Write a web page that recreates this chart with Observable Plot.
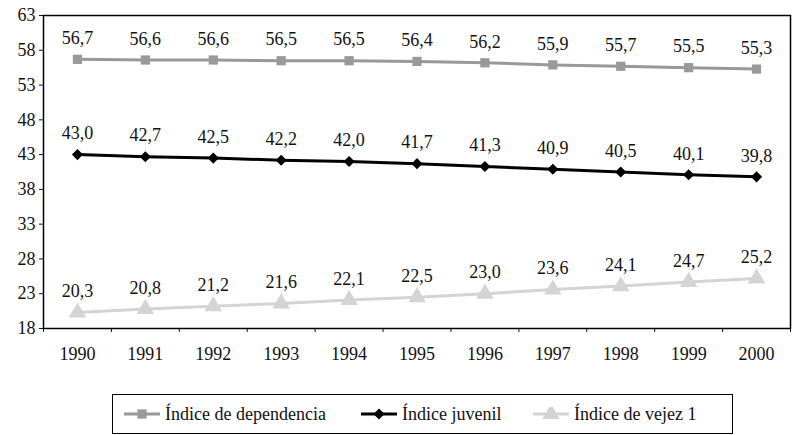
<!DOCTYPE html>
<html>
<head>
<meta charset="utf-8">
<script src="https://cdn.jsdelivr.net/npm/d3@7"></script>
<script src="https://cdn.jsdelivr.net/npm/@observablehq/plot@0.6"></script>
<style>
  html, body { margin: 0; padding: 0; background: #fff; }
  body { width: 792px; height: 435px; position: relative; overflow: hidden; font-family: "Liberation Serif", "Times New Roman", Times, serif; }
  #legend { position: absolute; left: 112px; top: 394px; width: 619px; height: 38px; border: 1.5px solid #000; box-sizing: content-box; }
  .item { position: absolute; top: 0; height: 38px; display: flex; align-items: center; font-size: 18px; color: #111; white-space: nowrap; }
  .item svg { margin-right: 5px; }
</style>
</head>
<body>
<div id="chart"></div>
<div id="legend"></div>
<script>
const years = [1990, 1991, 1992, 1993, 1994, 1995, 1996, 1997, 1998, 1999, 2000];
const dependencia = [56.7, 56.6, 56.6, 56.5, 56.5, 56.4, 56.2, 55.9, 55.7, 55.5, 55.3];
const juvenil = [43.0, 42.7, 42.5, 42.2, 42.0, 41.7, 41.3, 40.9, 40.5, 40.1, 39.8];
const vejez = [20.3, 20.8, 21.2, 21.6, 22.1, 22.5, 23.0, 23.6, 24.1, 24.7, 25.2];
const seriesNames = ["Índice de dependencia", "Índice juvenil", "Índice de vejez 1"];
const yTicks = [18, 23, 28, 33, 38, 43, 48, 53, 58, 63];

const styles = [
  {color: "#999999", symbol: "square", r: 5.2},
  {color: "#000000", symbol: "diamond2", r: 5},
  {color: "#d4d4d4", symbol: "triangle", r: 6.5}
];
const seriesValues = [dependencia, juvenil, vejez];
const boundaries = years.map(y => y - 0.5).concat([years[years.length - 1] + 0.5]);
const fmt = v => v.toFixed(1).replace(".", ",");
const serif = "'Liberation Serif', 'Times New Roman', Times, serif";

const marks = [
  Plot.axisY({ticks: yTicks, tickSize: 4, tickPadding: 4, label: null, fontSize: 18, tickFormat: d => String(d)}),
  Plot.axisX({ticks: years, tickSize: 0, tickPadding: 19, tickFormat: d => String(d), label: null, fontSize: 18}),
  Plot.axisX({ticks: boundaries, tickSize: 4, tickFormat: () => "", label: null}),
  Plot.frame({stroke: "#000", strokeWidth: 1.5})
];
seriesValues.forEach((vals, i) => {
  const rows = years.map((y, j) => ({year: y, value: vals[j], series: seriesNames[i]}));
  const s = styles[i];
  marks.push(Plot.line(rows, {x: "year", y: "value", stroke: s.color, strokeWidth: 3}));
  marks.push(Plot.dot(rows, {x: "year", y: "value", symbol: () => s.symbol, r: s.r, fill: s.color, stroke: "none"}));
  marks.push(Plot.text(rows, {x: "year", y: "value", text: d => fmt(d.value), dy: -21, fontSize: 18, fill: "#111"}));
});

const chart = Plot.plot({
  width: 792,
  height: 380,
  marginLeft: 43,
  marginRight: 2,
  marginTop: 15,
  marginBottom: 52,
  style: {fontFamily: serif, fontSize: "18px", color: "#111", background: "#fff"},
  x: {type: "linear", domain: [1989.5, 2000.5]},
  y: {domain: [18, 63]},
  symbol: {type: "identity"},
  marks
});
document.getElementById("chart").appendChild(chart);

// Legend (HTML box with sample line + marker)
const legend = document.getElementById("legend");
const legendPos = [11, 248, 420];
seriesNames.forEach((name, i) => {
  const s = styles[i];
  const item = document.createElement("div");
  item.className = "item";
  item.style.left = legendPos[i] + "px";
  const svg = d3.create("svg").attr("width", 36).attr("height", 14);
  svg.append("line").attr("x1", 0).attr("x2", 36).attr("y1", 7).attr("y2", 7).attr("stroke", s.color).attr("stroke-width", 3);
  svg.append("path").attr("transform", "translate(18,7)")
    .attr("d", d3.symbol(s.symbol === "square" ? d3.symbolSquare : s.symbol === "diamond2" ? d3.symbolDiamond2 : d3.symbolTriangle, s.r * s.r * Math.PI)())
    .attr("fill", s.color);
  item.appendChild(svg.node());
  const span = document.createElement("span");
  span.textContent = name;
  item.appendChild(span);
  legend.appendChild(item);
});
</script>
</body>
</html>
